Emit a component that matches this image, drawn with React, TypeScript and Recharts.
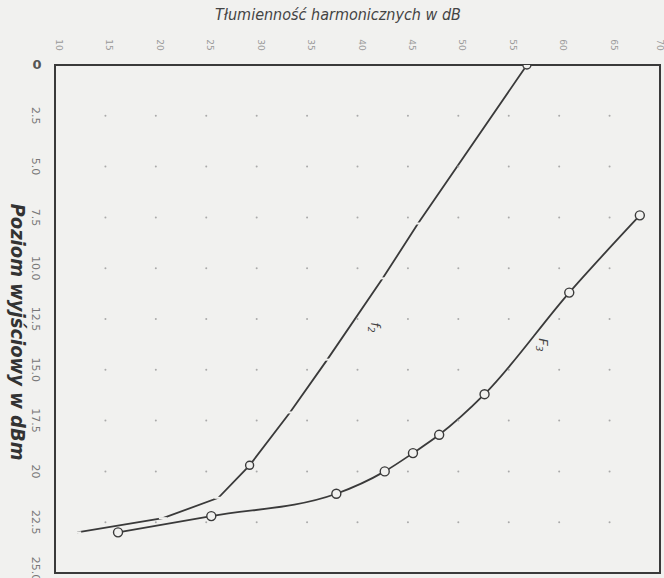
import { LineChart, Line, XAxis, YAxis, ReferenceArea, ReferenceDot } from "recharts";

// axis ticks
const X_TICKS = [10, 15, 20, 25, 30, 35, 40, 45, 50, 55, 60, 65, 70];
const Y_TICKS = [0, 2.5, 5, 7.5, 10, 12.5, 15, 17.5, 20, 22.5, 25];
const Y_LABELS = ["0", "2.5", "5.0", "7.5", "10.0", "12.5", "15.0", "17.5", "20", "22.5", "25.0"];

// f2 curve
const F2_X = [12.2, 20.7, 26.2, 29.3, 33.3, 37.0, 42.5, 46.0, 56.8];
const F2_Y = [23.0, 22.3, 21.3, 19.7, 17.1, 14.5, 10.5, 7.8, 0];
const F2_MARK = ["tick", "tick", "tick", "circle", "tick", "tick", "tick", "tick", "circle"];

// F3 curve
const F3_X = [16.25, 25.5, 37.9, 42.7, 45.5, 48.1, 52.6, 61.0, 68.0];
const F3_Y = [23.0, 22.2, 21.1, 20.0, 19.1, 18.2, 16.2, 11.2, 7.4];

const f2Data = F2_X.map((x, i) => ({ x, y: F2_Y[i], mark: F2_MARK[i] }));
const f3Data = F3_X.map((x, i) => ({ x, y: F3_Y[i] }));

const INK = "#3a3a3a";
const PAPER = "#f1f1ef";
const NARROW = "'Liberation Sans Narrow', 'DejaVu Sans Condensed', 'DejaVu Sans', sans-serif";

function F2Dot(props: any) {
  const { cx, cy, payload, index } = props;
  if (payload.mark === "circle") {
    return <circle key={index} cx={cx} cy={cy} r={4} fill={PAPER} stroke={INK} strokeWidth={1.4} />;
  }
  return <line key={index} x1={cx - 4} y1={cy} x2={cx + 4} y2={cy} stroke={PAPER} strokeWidth={2} />;
}

function F3Dot(props: any) {
  const { cx, cy, index } = props;
  return <circle key={index} cx={cx} cy={cy} r={4.5} fill={PAPER} stroke={INK} strokeWidth={1.4} />;
}

function YTick(props: any) {
  const { x, y, payload, index } = props;
  const label = Y_LABELS[index] ?? String(payload.value);
  if (payload.value === 0) {
    return (
      <text x={x - 10} y={y + 4} textAnchor="middle" fontSize={13} fontWeight="bold" fill="#555" fontFamily="DejaVu Sans">
        {label}
      </text>
    );
  }
  return (
    <text
      x={x - 12}
      y={y}
      textAnchor="middle"
      dominantBaseline="central"
      fontSize={11}
      fill="#777"
      fontFamily="DejaVu Sans"
      transform={`rotate(90 ${x - 12} ${y})`}
    >
      {label}
    </text>
  );
}

function XTick(props: any) {
  const { x, y, payload } = props;
  return (
    <text
      x={x + 4}
      y={y - 12}
      textAnchor="middle"
      dominantBaseline="central"
      fontSize={9}
      fill="#999"
      fontFamily="DejaVu Sans"
      transform={`rotate(90 ${x + 4} ${y - 12})`}
    >
      {payload.value}
    </text>
  );
}

export default function App() {
  return (
    <div style={{ position: "absolute", left: 0, top: 0, width: 664, height: 578, background: PAPER, overflow: "hidden" }}>
      <div
        style={{
          position: "absolute",
          left: 0,
          width: 664,
          top: 5,
          textAlign: "center",
          fontFamily: NARROW,
          fontStyle: "italic",
          fontSize: 16,
          color: "#444",
          paddingLeft: 12,
          boxSizing: "border-box",
        }}
      >
        Tłumienność harmonicznych w dB
      </div>
      <div
        style={{
          position: "absolute",
          left: 18,
          top: 332,
          transform: "translate(-50%, -50%) rotate(90deg)",
          whiteSpace: "nowrap",
          fontFamily: NARROW,
          fontStyle: "italic",
          fontWeight: "bold",
          fontSize: 20,
          color: "#333",
        }}
      >
        Poziom wyjściowy w dBm
      </div>
      <div
        style={{
          position: "absolute",
          left: 368,
          top: 318,
          transform: "rotate(90deg)",
          fontFamily: "DejaVu Sans",
          fontStyle: "italic",
          fontSize: 13,
          color: "#444",
          background: PAPER,
          lineHeight: "14px",
          zIndex: 2,
        }}
      >
        f<sub style={{ fontSize: 9 }}>2</sub>
      </div>
      <div
        style={{
          position: "absolute",
          left: 536,
          top: 336,
          transform: "rotate(90deg)",
          fontFamily: "DejaVu Sans",
          fontStyle: "italic",
          fontSize: 13,
          color: "#444",
        }}
      >
        F<sub style={{ fontSize: 9 }}>3</sub>
      </div>
      <LineChart width={664} height={578} margin={{ top: 35, right: 4, bottom: 5, left: 15 }}>
        <XAxis
          type="number"
          dataKey="x"
          orientation="top"
          domain={[10, 70]}
          ticks={X_TICKS}
          height={30}
          axisLine={false}
          tickLine={false}
          tick={<XTick />}
          allowDataOverflow
        />
        <YAxis
          type="number"
          dataKey="y"
          domain={[0, 25]}
          reversed
          ticks={Y_TICKS}
          width={40}
          axisLine={false}
          tickLine={false}
          tick={<YTick />}
          allowDataOverflow
        />
        {X_TICKS.slice(1, -1).flatMap((gx) =>
          Y_TICKS.slice(1, -1).map((gy) => (
            <ReferenceDot key={`${gx}-${gy}`} x={gx} y={gy} r={1} fill="#aaa" stroke="none" />
          ))
        )}
        <ReferenceArea x1={10} x2={70} y1={0} y2={25} fill="none" stroke={INK} strokeWidth={2} />
        <Line
          data={f2Data}
          dataKey="y"
          type="linear"
          stroke={INK}
          strokeWidth={1.8}
          dot={<F2Dot />}
          isAnimationActive={false}
        />
        <Line
          data={f3Data}
          dataKey="y"
          type="monotone"
          stroke={INK}
          strokeWidth={1.8}
          dot={<F3Dot />}
          isAnimationActive={false}
        />
      </LineChart>
    </div>
  );
}
